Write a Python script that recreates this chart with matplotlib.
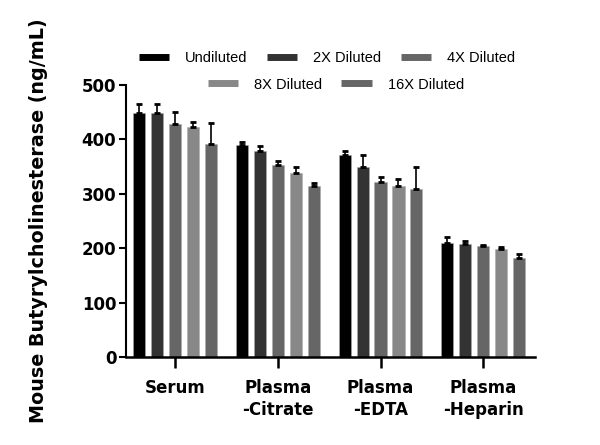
import numpy as np
from matplotlib import pyplot as plt
from matplotlib.lines import Line2D

groups = ['Serum', 'Plasma\n-Citrate', 'Plasma\n-EDTA', 'Plasma\n-Heparin']
series = ['Undiluted', '2X Diluted', '4X Diluted', '8X Diluted', '16X Diluted']
colors = ['#000000', '#333333', '#666666', '#888888', '#666666']

means = [
    [448, 389, 371, 210],
    [448, 379, 350, 208],
    [428, 352, 322, 204],
    [423, 338, 315, 199],
    [391, 314, 309, 182],
]
errs = [
    [17, 7, 8, 10],
    [17, 9, 22, 6],
    [22, 8, 8, 2],
    [9, 12, 12, 4],
    [40, 6, 41, 7],
]

plt.rcParams['font.family'] = ['Liberation Sans', 'DejaVu Sans']

fig = plt.figure(figsize=(6, 4.45), dpi=100)
ax = fig.add_axes([0.21, 0.198, 0.682, 0.611])

x = np.arange(len(groups))
step = 0.175
width = 0.117
for i, (name, c) in enumerate(zip(series, colors)):
    pos = x + (i - 2) * step
    ax.bar(pos, means[i], width, color=c, edgecolor='#aaaaaa', linewidth=0.4, zorder=2)
    ax.errorbar(pos, means[i], yerr=[np.zeros(4), errs[i]], fmt='none',
                ecolor='black', elinewidth=1.2, capsize=2.5, capthick=2, zorder=3)

bold = dict(family='DejaVu Sans', weight='bold', size=12)
ax.set_xlim(-0.476, 3.505)
ax.set_ylim(0, 500)
ax.set_yticks([0, 100, 200, 300, 400, 500])
ax.set_yticklabels([0, 100, 200, 300, 400, 500], fontdict=bold)
ax.set_xticks(x)
ax.set_xticklabels(groups, fontdict=bold, linespacing=1.25)
ax.tick_params(axis='y', width=1.5, length=5, pad=2)
ax.tick_params(axis='x', width=1.8, length=8, pad=8)
ax.spines['top'].set_visible(False)
ax.spines['right'].set_visible(False)
ax.spines['left'].set_linewidth(1.5)
ax.spines['bottom'].set_linewidth(1.8)
ax.set_ylabel('Mouse Butyrylcholinesterase (ng/mL)', family='DejaVu Sans',
              weight='bold', size=13.8, labelpad=24)

handles = [Line2D([], [], color=c, lw=5, solid_capstyle='butt') for c in colors]
leg_kw = dict(frameon=False, fontsize=10.5, handlelength=2.1, columnspacing=1.3,
              handletextpad=1.1, borderpad=0)
fig.legend(handles[:3], series[:3], ncol=3, loc='center', bbox_to_anchor=(0.545, 0.869), **leg_kw)
fig.legend(handles[3:], series[3:], ncol=2, loc='center', bbox_to_anchor=(0.56, 0.81), **leg_kw)

fig.savefig('out.png', dpi=100)
